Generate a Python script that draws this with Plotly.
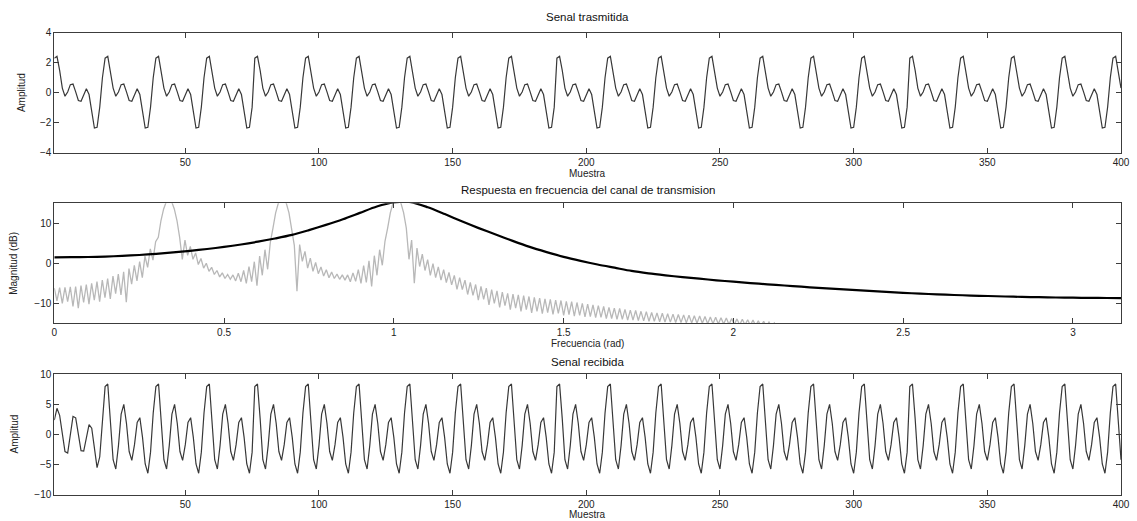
import numpy as np
import plotly.graph_objects as go

# ---------------- data ----------------
# transmitted signal: one period as read (samples 1..19), repeated over 400 samples
tx_period = [2.30, 2.42, 1.48, 0.30, -0.24, 0.04, 0.53, 0.57, 0.05, -0.53,
             -0.58, -0.11, 0.26, -0.13, -1.31, -2.37, -2.32, -0.97, 0.99]
# received signal: first (transient) period, then the steady period
rx_start = [2.4, 4.35, 3.19, -0.02, -2.85, -3.07, -0.03, 3.01, 2.77, -0.04,
            -2.69, -2.75, -0.49, 1.63, 1.04, -2.70, -5.51, -3.70, 2.37]
rx_period = [7.96, 8.39, 2.63, -4.19, -5.74, -1.84, 3.38, 5.0, 1.82, -2.83,
             -4.31, -1.69, 1.99, 2.79, -0.47, -4.89, -6.43, -2.93, 3.58]
# number of samples between successive main peaks, as read along the axis
period_lengths = [19, 19, 19, 18, 19, 19, 19, 19, 19, 18, 19, 19, 19, 19, 19,
                  19, 18, 19, 19, 19, 19, 19]
n_samples = 400

# channel frequency response (black), dB, read every 0.05 rad
chan_freq = [0.00, 0.05, 0.10, 0.15, 0.20, 0.25, 0.30, 0.35, 0.40, 0.45,
             0.50, 0.55, 0.60, 0.65, 0.70, 0.75, 0.80, 0.85, 0.90, 0.95,
             1.00, 1.05, 1.10, 1.15, 1.20, 1.25, 1.30, 1.35, 1.40, 1.45,
             1.50, 1.55, 1.60, 1.65, 1.70, 1.75, 1.80, 1.85, 1.90, 1.95,
             2.00, 2.05, 2.10, 2.15, 2.20, 2.25, 2.30, 2.35, 2.40, 2.45,
             2.50, 2.55, 2.60, 2.65, 2.70, 2.75, 2.80, 2.85, 2.90, 2.95,
             3.00, 3.05, 3.10, 3.1416]
chan_db = [1.50, 1.52, 1.58, 1.68, 1.85, 2.08, 2.38, 2.72, 3.12, 3.58,
           4.10, 4.70, 5.40, 6.20, 7.10, 8.30, 9.60, 11.0, 12.6, 14.2,
           15.2, 15.3, 14.0, 12.3, 10.5, 8.8, 7.2, 5.6, 4.1, 2.8,
           1.6, 0.6, -0.3, -1.1, -1.9, -2.5, -3.0, -3.45, -3.85, -4.25,
           -4.6, -4.95, -5.25, -5.55, -5.85, -6.15, -6.4, -6.65, -6.9, -7.15,
           -7.38, -7.58, -7.76, -7.92, -8.06, -8.18, -8.3, -8.4, -8.48, -8.55,
           -8.6, -8.65, -8.68, -8.7]

# spectrum of the transmitted signal (grey), dB, one value every pi/400 rad
grey_db = [
    -6.2, -9.4, -6.1, -10.0, -6.0, -9.6, -5.9, -10.8, -5.8, -11.2,
    -5.6, -9.8, -5.3, -10.2, -5.0, -9.2, -4.6, -9.6, -4.2, -8.6,
    -3.8, -8.9, -3.2, -7.6, -2.7, -7.9, -2.1, -9.7, -1.3, -5.2,
    -0.5, -4.4, 0.4, -3.6, 1.8, -1.0, 3.6, 0.8, 5.4,
    6.5, 10.7, 13.6, 15.4, 16.0, 15.4, 13.6, 10.7, 6.5, 1.0,
    5.8, 2.0, 4.2, 1.0, 2.6, -0.3, 1.2, -1.2, 0.0, -2.0,
    -1.0, -2.8, -1.8, -3.4, -2.4, -3.8, -2.8, -4.0, -2.9, -4.4,
    -2.5, -4.6, -1.8, -5.0, -0.8, -4.6, 0.4, -5.6, 1.8, -3.0,
    3.4, -1.5, 5.2,
    8.8, 12.6, 15.0, 16.15, 16.15, 15.0, 12.6, 8.8, 4.5, -7.0,
    4.7, 0.5, 3.0, -1.2, 1.3, -2.0, 0.2, -2.6, -0.9, -3.2,
    -1.6, -3.6, -2.2, -3.8, -2.7, -4.0, -2.9, -4.2, -2.9, -4.6,
    -2.4, -4.5, -1.6, -5.0, -0.6, -4.8, 0.6, -5.8, 1.9, -3.0,
    3.4, -0.5, 5.5,
    8.8, 12.6, 15.0, 16.15, 16.15, 15.0, 12.6, 8.8,
    1.0, 5.8, -5.0, 3.8, -0.8, 2.3, -1.8, 0.9, -3.0, -0.1,
    -3.6, -0.9, -4.2, -1.6, -4.8, -2.3, -5.4, -3.0, -6.5, -3.6,
    -6.6, -4.2, -7.8, -4.8, -8.0, -5.3, -9.2, -5.8, -9.0, -6.2,
    -10.4, -6.6, -10.0, -6.9, -11.0, -7.2, -10.6, -7.5, -11.6, -7.7,
    -11.2, -7.9, -12.0, -8.1, -11.6, -8.3, -12.4, -8.5, -12.0, -8.7,
    -12.6, -8.9, -12.3, -9.0, -12.8, -9.2, -12.5, -9.3, -13.0, -9.5,
    -12.8, -9.6, -13.2, -9.8, -13.0, -10.0, -13.4, -10.2, -13.3, -10.4,
    -13.6, -10.6, -13.5, -10.8, -13.8, -11.0, -13.8, -11.2, -14.0, -11.3,
    -14.0, -11.5, -14.2, -11.7, -14.2, -11.8, -14.3, -12.0, -14.4, -12.1,
    -14.5, -12.3, -14.5, -12.4, -14.6, -12.5, -14.7, -12.6, -14.7, -12.7,
    -14.8, -12.8, -14.8, -12.9, -14.9, -13.0, -14.9, -13.1, -15.0, -13.2,
    -15.0, -13.3, -15.1, -13.4, -15.1, -13.5, -15.2, -13.6, -15.2, -13.7,
    -15.3, -13.8, -15.3, -13.9, -15.4, -14.0, -15.4, -14.1, -15.5, -14.2,
    -15.6, -14.4, -15.7, -14.5, -15.8, -14.7, -15.9, -14.9, -16.0, -15.2,
    -16.2, -15.6, -16.5, -16.0, -17.0, -16.6, -17.5, -17.2,
]
grey_step = np.pi / 400

titles = ["Senal trasmitida",
          "Respuesta en frecuencia del canal de transmision",
          "Senal recibida"]
xlabels = ["Muestra", "Frecuencia (rad)", "Muestra"]
ylabels = ["Amplitud", "Magnitud (dB)", "Amplitud"]


def repeat_periods(period, lengths, count):
    out = []
    for L in lengths:
        out.extend(period[:L])
    return out[:count]


tx = repeat_periods(tx_period, period_lengths, n_samples)
rx = rx_start + repeat_periods(rx_period, period_lengths[1:], n_samples - len(rx_start))
samples = list(range(1, n_samples + 1))
grey_freq = [i * grey_step for i in range(len(grey_db))]

# ---------------- layout geometry (pixels) ----------------
W, H = 1137, 521
x0, x1 = 54.3, 1121.0
panels = [(32.7, 152.5), (203.3, 323.3), (374.3, 494.7)]


def py(p):
    return 1 - p / H


def px(p):
    return p / W


FONT = "Liberation Sans, Arial, Helvetica, sans-serif"
axis_common = dict(
    showgrid=False, zeroline=False, showline=True, mirror="ticks",
    linecolor="#3c3c3c", linewidth=1, ticks="inside", ticklen=5,
    tickcolor="#3c3c3c", tickwidth=1,
    tickfont=dict(family=FONT, size=10, color="#222"),
)

fig = go.Figure()
fig.add_trace(go.Scatter(x=samples, y=tx, mode="lines",
                         line=dict(color="#383838", width=1.2),
                         xaxis="x", yaxis="y", showlegend=False))
fig.add_trace(go.Scatter(x=grey_freq, y=grey_db, mode="lines",
                         line=dict(color="#b8b8b8", width=1.3),
                         xaxis="x2", yaxis="y2", showlegend=False))
fig.add_trace(go.Scatter(x=chan_freq, y=chan_db, mode="lines",
                         line=dict(color="#000", width=2.2, shape="spline", smoothing=0.8),
                         xaxis="x2", yaxis="y2", showlegend=False))
fig.add_trace(go.Scatter(x=samples, y=rx, mode="lines",
                         line=dict(color="#383838", width=1.2),
                         xaxis="x3", yaxis="y3", showlegend=False))

dom_x = [px(x0), px(x1)]
layout = dict(
    width=W, height=H, margin=dict(l=0, r=0, t=0, b=0, autoexpand=False),
    paper_bgcolor="white", plot_bgcolor="white", showlegend=False,
    font=dict(family=FONT, size=10, color="#222"),
)
layout["xaxis"] = dict(axis_common, domain=dom_x, anchor="y", range=[1, 400],
                       tickvals=[50, 100, 150, 200, 250, 300, 350, 400])
layout["yaxis"] = dict(axis_common, domain=[py(panels[0][1]), py(panels[0][0])],
                       anchor="x", range=[-4, 4], tickvals=[-4, -2, 0, 2, 4])
layout["xaxis2"] = dict(axis_common, domain=dom_x, anchor="y2", range=[0, np.pi],
                        tickvals=[0, 0.5, 1, 1.5, 2, 2.5, 3])
layout["yaxis2"] = dict(axis_common, domain=[py(panels[1][1]), py(panels[1][0])],
                        anchor="x2", range=[-15, 15], tickvals=[-10, 0, 10])
layout["xaxis3"] = dict(axis_common, domain=dom_x, anchor="y3", range=[1, 400],
                        tickvals=[50, 100, 150, 200, 250, 300, 350, 400])
layout["yaxis3"] = dict(axis_common, domain=[py(panels[2][1]), py(panels[2][0])],
                        anchor="x3", range=[-10, 10], tickvals=[-10, -5, 0, 5, 10])

cx = (px(x0) + px(x1)) / 2
title_y = [17, 189.5, 362]
xlabel_y = [173, 343, 514.5]
ylabel_x = [21.5, 13.5, 14]
annotations = []
for i in range(3):
    annotations.append(dict(text=titles[i], x=cx, y=py(title_y[i]), xref="paper",
                            yref="paper", showarrow=False, xanchor="center",
                            yanchor="middle", font=dict(family=FONT, size=11.5, color="#111")))
    annotations.append(dict(text=xlabels[i], x=cx, y=py(xlabel_y[i]), xref="paper",
                            yref="paper", showarrow=False, xanchor="center",
                            yanchor="middle", font=dict(family=FONT, size=10, color="#222")))
    mid = (panels[i][0] + panels[i][1]) / 2
    annotations.append(dict(text=ylabels[i], x=px(ylabel_x[i]), y=py(mid), xref="paper",
                            yref="paper", showarrow=False, textangle=-90,
                            xanchor="center", yanchor="middle",
                            font=dict(family=FONT, size=10, color="#222")))
layout["annotations"] = annotations

fig.update_layout(**layout)
fig.write_html("out.html", config={"displayModeBar": False})

# remove the default page margins so the figure sits at the window's corner
with open("out.html", "r", encoding="utf-8") as fh:
    page = fh.read()
page = page.replace("<head>", "<head><style>html,body{margin:0;padding:0;overflow:hidden;}</style>", 1)
with open("out.html", "w", encoding="utf-8") as fh:
    fh.write(page)
